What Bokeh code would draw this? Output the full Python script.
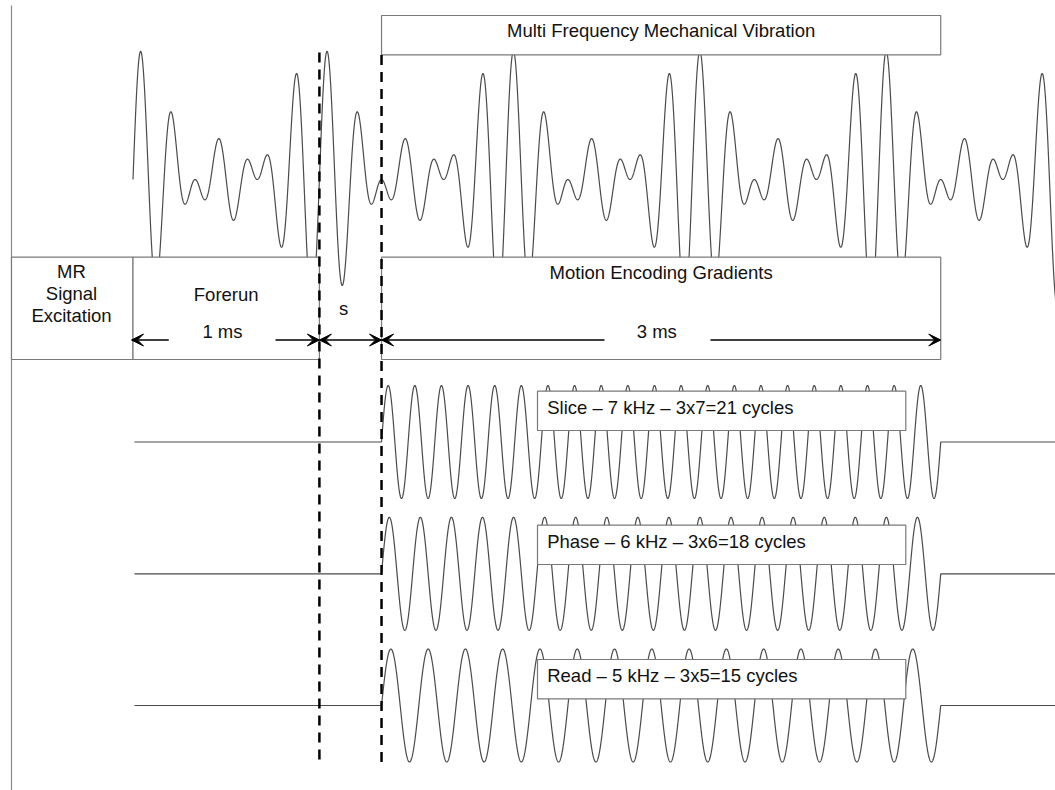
import numpy as np
from bokeh.plotting import figure
from bokeh.models import Range1d, Arrow, VeeHead, ColumnDataSource
from bokeh.core.properties import value
from bokeh.embed import file_html
from bokeh.resources import INLINE

# ---------------- data ----------------
vibration_freqs_khz = [5, 6, 7]          # multi-frequency mechanical vibration components
gradient_names = ["Slice", "Phase", "Read"]
gradient_freqs_khz = [7, 6, 5]
gradient_labels = [
    "Slice \u2013 7 kHz \u2013 3x7=21 cycles",
    "Phase \u2013 6 kHz \u2013 3x6=18 cycles",
    "Read \u2013 5 kHz \u2013 3x5=15 cycles",
]
forerun_ms = 1.0
s_ms = 1.0 / 3.0
encoding_ms = 3.0
excitation_lines = ["MR", "Signal", "Excitation"]
phase_labels = ["Forerun", "1 ms", "s", "Motion Encoding Gradients", "3 ms"]
vibration_title = "Multi Frequency Mechanical Vibration"

# ---------------- layout ----------------
W, H = 1055, 790
PX_PER_MS = 186.4
T0_PX = 132.5              # screen x of t = 0
x_start = (0 - T0_PX) / PX_PER_MS
x_end = (W - T0_PX) / PX_PER_MS
t_end = x_end + 0.05

t_fr0 = 0.0
t_fr1 = t_fr0 + forerun_ms
t_enc0 = t_fr1 + s_ms
t_enc1 = t_enc0 + encoding_ms
t_left = (11 - T0_PX) / PX_PER_MS

VIB_Y, VIB_AMP = 179.0, 43.7
GRAD_Y = [441.5, 573.3, 705.0]
GRAD_AMP = 56.5
LINE_C = "#4a4a4a"
BOX_C = "#7a7a7a"
FONT = value("Liberation Sans")
FS = "18.5px"

p = figure(width=W, height=H, x_range=Range1d(x_start, x_end), y_range=Range1d(H, 0),
           output_backend="svg", toolbar_location=None, min_border=0,
           x_axis_location=None, y_axis_location=None)
p.grid.visible = False
p.outline_line_color = None
p.background_fill_color = "white"

# left vertical rule
p.segment(x0=[t_left], y0=[5], x1=[t_left], y1=[800], line_color="#8a8a8a", line_width=1.2)

# mechanical vibration (sum of components)
t = np.linspace(t_fr0, t_end, 4000)
vib = np.zeros_like(t)
for f in vibration_freqs_khz:
    vib += np.sin(2 * np.pi * f * t)
p.line(t, VIB_Y - VIB_AMP * vib, line_color=LINE_C, line_width=1.2)

# gradients
for yc, f in zip(GRAD_Y, gradient_freqs_khz):
    tg = np.linspace(t_fr0 + 0.008, t_end, 5000)
    g = np.where((tg >= t_enc0) & (tg <= t_enc1), np.sin(2 * np.pi * f * (tg - t_enc0)), 0.0)
    p.line(tg, yc - GRAD_AMP * g, line_color=LINE_C, line_width=1.2)

# boxes (white fill, drawn over the waves)
boxes = ColumnDataSource(dict(
    left=[t_left, t_fr0, t_enc0, t_enc0],
    right=[t_fr0, t_fr1, t_enc1, t_enc1],
    top=[256.7, 256.7, 256.7, 15.0],
    bottom=[359.0, 359.0, 359.0, 54.3],
))
p.quad(left="left", right="right", top="top", bottom="bottom", source=boxes,
       fill_color="white", line_color=BOX_C, line_width=1.2)

lab_left = (537 - T0_PX) / PX_PER_MS
lab_right = (905.3 - T0_PX) / PX_PER_MS
lab_tops = [390.7, 524.7, 659.0]
p.quad(left=[lab_left] * 3, right=[lab_right] * 3, top=lab_tops,
       bottom=[y + 39.3 for y in lab_tops], fill_color="white", line_color=BOX_C, line_width=1.2)

# texts
txt_left = (546.7 - T0_PX) / PX_PER_MS
p.text(x=[txt_left] * 3, y=[y + 16 for y in lab_tops], text=gradient_labels,
       text_align="left", text_baseline="middle", text_font=FONT, text_font_size=FS,
       text_color="#111111")

t_mr = (71 - T0_PX) / PX_PER_MS
p.text(x=[t_mr] * 3, y=[271, 293, 314.5], text=excitation_lines,
       text_align="center", text_baseline="middle", text_font=FONT, text_font_size=FS,
       text_color="#111111")

p.text(x=[0.5 * (t_fr0 + t_fr1), 0.48, 1.13, 0.5 * (t_enc0 + t_enc1), 2.81],
       y=[293.5, 330.5, 307.5, 271.5, 330.5], text=phase_labels,
       text_align="center", text_baseline="middle", text_font=FONT, text_font_size=FS,
       text_color="#111111")

p.text(x=[0.5 * (t_enc0 + t_enc1)], y=[30], text=[vibration_title],
       text_align="center", text_baseline="middle", text_font=FONT, text_font_size=FS,
       text_color="#111111")

# dimension arrows
AY = 339.5
def head():
    return VeeHead(size=12, fill_color="black", line_color="black", line_width=1)

def arrow(x0, x1, both=False):
    a = Arrow(end=head(), start=head() if both else None,
              x_start=x0, y_start=AY, x_end=x1, y_end=AY,
              line_color="black", line_width=1.6)
    p.add_layout(a)

arrow((168.3 - T0_PX) / PX_PER_MS, t_fr0 - 0.008)
arrow((275 - T0_PX) / PX_PER_MS, t_fr1)
arrow(t_fr1, t_enc0, both=True)
arrow((604 - T0_PX) / PX_PER_MS, t_enc0)
arrow((710 - T0_PX) / PX_PER_MS, t_enc1)

# dashed markers
p.segment(x0=[t_fr1, t_enc0], y0=[52, 54.5], x1=[t_fr1, t_enc0], y1=[762, 762],
          line_color="black", line_width=2.5, line_dash="10 7")

open("out.html", "w").write(file_html(p, INLINE))
